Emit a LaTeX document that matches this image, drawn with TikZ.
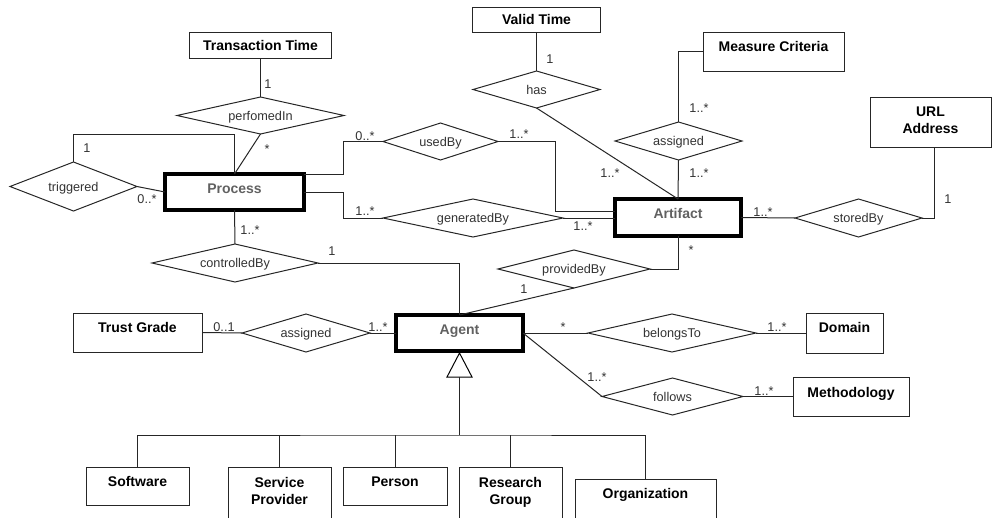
\documentclass[tikz,border=0pt]{standalone}
\usepackage{fontspec}
\setmainfont{Liberation Sans}
\usetikzlibrary{shapes.geometric,calc}
\newcommand{\twoline}[2]{\begin{tabular}[b]{@{}c@{}}#1\\#2\end{tabular}}
\begin{document}
\begin{tikzpicture}[x=1pt,y=-1pt,
  ln/.style={draw=black!85,line width=1pt},
  sz/.style 2 args={minimum width=#1pt,minimum height=#2pt},
  box/.style={rectangle,draw=black!85,line width=1pt,inner sep=0pt,outer sep=0pt,
    font=\fontsize{14}{17}\selectfont\bfseries,text=black,text height=10pt,text depth=#1},
  box/.default=0pt,
  box2/.style={box=#1,text height=27pt},
  main/.style={box=#1,line width=4pt,draw=black,text=black!62},
  rel/.style={diamond,aspect=5,draw=black!85,line width=1pt,inner sep=0pt,outer sep=0pt,
    font=\fontsize{12.7}{15}\selectfont,text=black!80,text height=9pt,text depth=0pt},
  lab/.style={inner sep=0pt,font=\fontsize{12.7}{15}\selectfont,text=black!80,text height=9pt,text depth=0pt}]
\useasboundingbox (0,0) rectangle (992,517);

% entity boxes
\node[box=0pt,sz={142}{26}] (tt) at (260.5,45) {Transaction Time};
\node[box=0pt,sz={128}{25}] (vt) at (536.5,19.5) {Valid Time};
\node[box=11pt,sz={141}{39}] (mc) at (773.5,51.5) {Measure Criteria};
\node[box2=5pt,sz={121}{50}] (url) at (930.5,122) {\twoline{URL}{Address}};
\node[main=8pt,sz={139}{36}] (proc) at (234.5,192) {Process};
\node[main=9pt,sz={126}{37}] (art) at (678,217.5) {Artifact};
\node[main=8pt,sz={127}{36}] (agent) at (459.5,333) {Agent};
\node[box=11pt,sz={129}{39}] (tg) at (137.5,332.5) {Trust Grade};
\node[box=12pt,sz={77}{40}] (dom) at (844.5,333) {Domain};
\node[box=9pt,sz={116}{39}] (meth) at (851,396.5) {Methodology};
\node[box=10pt,sz={103}{38}] (sw) at (137.5,486) {Software};
\node[box2=12pt,sz={103}{60}] (sp) at (279.5,497) {\twoline{Service}{Provider}};
\node[box=10pt,sz={104}{38}] (per) at (395,486) {Person};
\node[box2=12pt,sz={103}{60}] (rg) at (510.5,497) {\twoline{Research}{Group}};
\node[box=22pt,sz={141}{50}] (org) at (645.5,504) {Organization};

% relationships
\node[rel,sz={167}{37}] (perf) at (260.5,115.5) {perfomedIn};
\node[rel,sz={127}{49}] (trig) at (73.5,186.5) {triggered};
\node[rel,sz={115}{37}] (used) at (440.5,141.5) {usedBy};
\node[rel,sz={180}{38}] (gen) at (473,218) {generatedBy};
\node[rel,sz={127}{37}] (has) at (536.5,89.5) {has};
\node[rel,sz={127}{38}] (asg1) at (678.5,141) {assigned};
\node[rel,sz={127}{38}] (stored) at (858.5,218) {storedBy};
\node[rel,sz={166}{38}] (ctrl) at (235,263) {controlledBy};
\node[rel,sz={152}{38}] (prov) at (574,269) {providedBy};
\node[rel,sz={128}{38}] (asg2) at (306,333) {assigned};
\node[rel,sz={168}{38}] (bel) at (672,333) {belongsTo};
\node[rel,sz={141}{37}] (fol) at (672.5,396.5) {follows};

% connectors
\draw[ln] (tt.south) -- (perf.north);
\draw[ln] (perf.south) -- (proc.north);
\draw[ln] (trig.north) -- ++(0,-28) -| (proc.north);
\draw[ln] (trig.east) -- (proc.west);
\draw[ln] (proc.north east) -- ++(39,0) |- (used.west);
\draw[ln] (used.east) -- ++(57,0) |- ([yshift=6.5pt]art.west);
\draw[ln] (proc.east) -- ++(39,0) |- (gen.west);
\draw[ln] (gen.east) -- (gen.east -| art.west);
\draw[ln] (vt.south) -- (has.north);
\draw[ln] (has.south) -- (art.north);
\draw[ln] (mc.west) -| (asg1.north);
\draw[ln] (asg1.south) -- (art.north);
\draw[ln] (art.east) -- (stored.west);
\draw[ln] (stored.east) -| ([xshift=3.5pt]url.south);
\draw[ln] (art.south) |- (prov.east);
\draw[ln] (prov.south) -- (agent.north);
\draw[ln] (proc.south) -- (ctrl.north);
\draw[ln] (ctrl.east) -| (agent.north);
\draw[ln] (tg.east) -- (asg2.west);
\draw[ln] (asg2.east) -- (agent.west);
\draw[ln] (agent.east) -- (bel.west);
\draw[ln] (bel.east) -- (dom.west);
\draw[ln] (agent.east) -- (fol.west);
\draw[ln] (fol.east) -- (meth.west);

% generalization
\coordinate (tri) at (459.5,377);
\coordinate (bus) at (459.5,435);
\draw[ln,draw=black,fill=white] ([yshift=-2pt]agent.south) -- ([xshift=-12.5pt]tri) -- ([xshift=12.5pt]tri) -- cycle;
\draw[ln] (tri) -- (bus);
\draw[ln] (sw.north) |- (bus) -| (org.north);
\draw[ln] (sp.north) -- (sp.north |- bus);
\draw[ln] (per.north) -- (per.north |- bus);
\draw[ln] (rg.north) -- (rg.north |- bus);

% multiplicities
\node[lab] (m1) at (268,84) {1};
\node[lab] (m2) at (267,148.5) {*};
\node[lab] (m3) at (87,148) {1};
\node[lab] (m4) at (147,199) {0..*};
\node[lab] (m5) at (250,230) {1..*};
\node[lab] (m6) at (332,251) {1};
\node[lab] (m7) at (365,136) {0..*};
\node[lab] (m8) at (519,134) {1..*};
\node[lab] (m9) at (365,211) {1..*};
\node[lab] (m10) at (583,226) {1..*};
\node[lab] (m11) at (550,59) {1};
\node[lab] (m12) at (610,173) {1..*};
\node[lab] (m13) at (699,108) {1..*};
\node[lab] (m14) at (699,173) {1..*};
\node[lab] (m15) at (763,212) {1..*};
\node[lab] (m16) at (948,199) {1};
\node[lab] (m17) at (691,249.5) {*};
\node[lab] (m18) at (524,289) {1};
\node[lab] (m19) at (224,327) {0..1};
\node[lab] (m20) at (378,327) {1..*};
\node[lab] (m21) at (563,326.5) {*};
\node[lab] (m22) at (777,327) {1..*};
\node[lab] (m23) at (597,377) {1..*};
\node[lab] (m24) at (764,391) {1..*};
\end{tikzpicture}
\end{document}
